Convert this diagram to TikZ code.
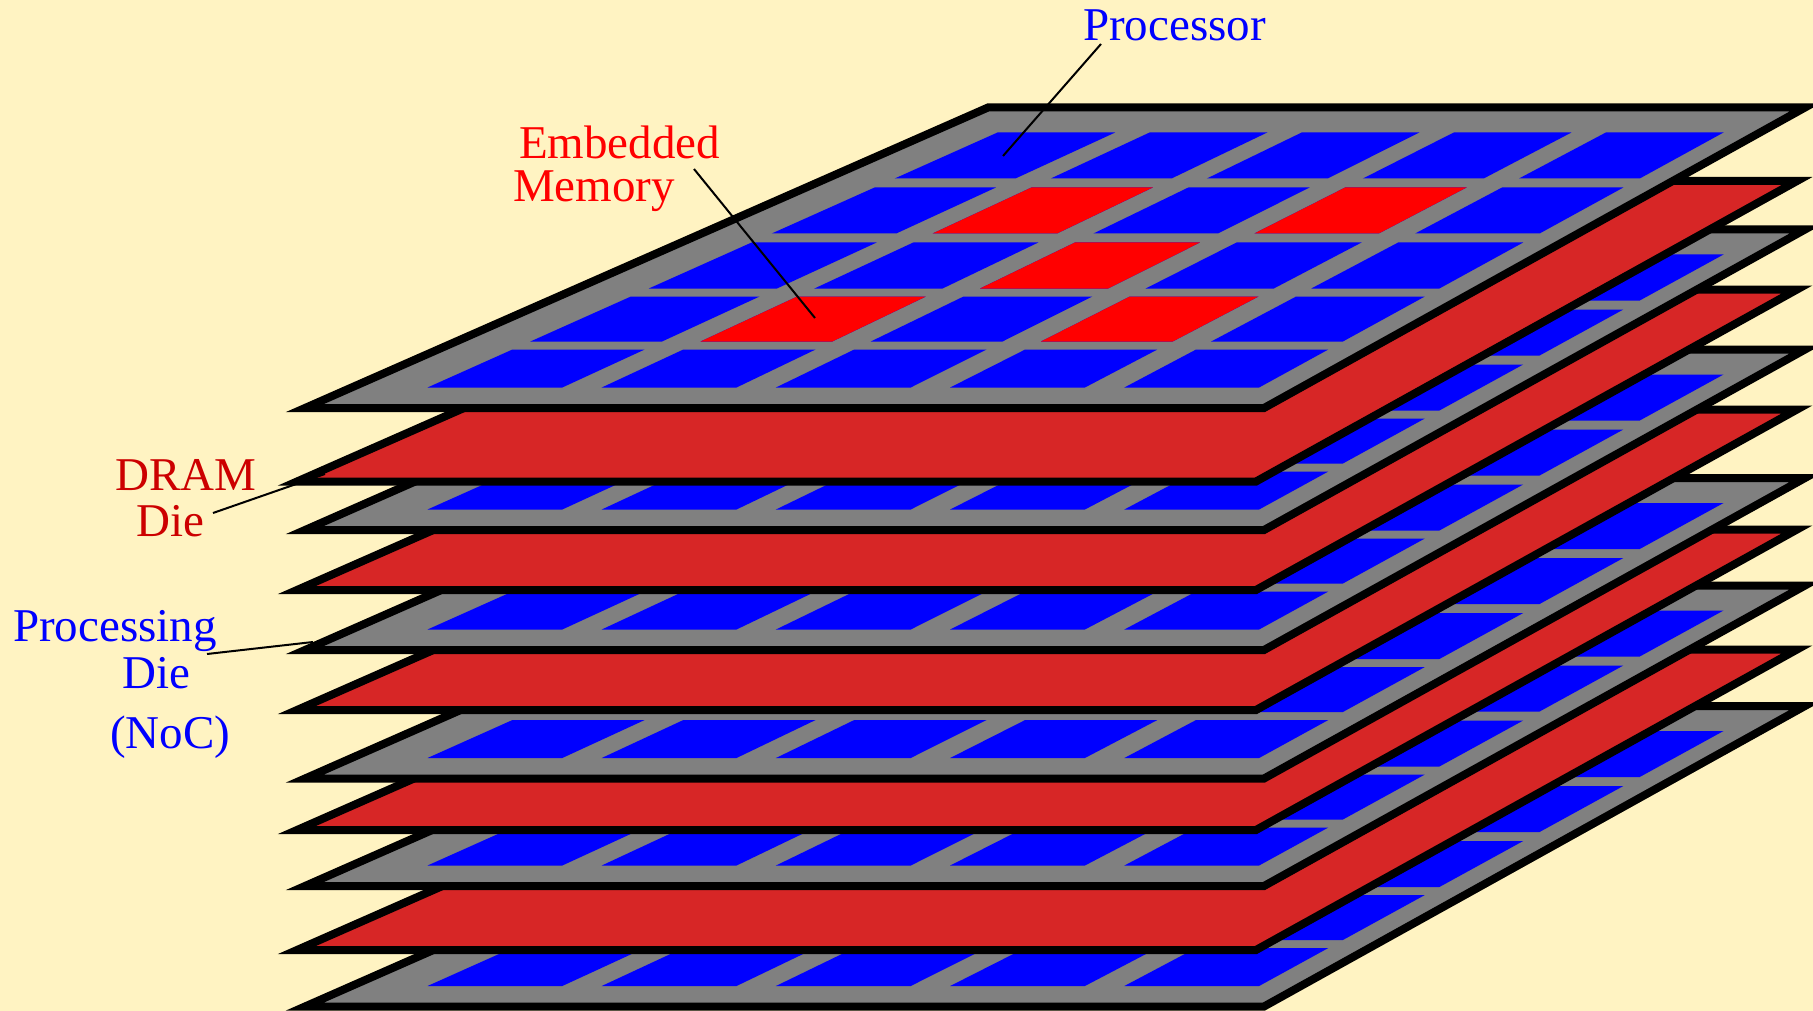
\documentclass[tikz,border=0pt]{standalone}
\usepackage{fontspec}
\setmainfont{Liberation Serif}
\usepackage{tikz}
\usetikzlibrary{calc}

\definecolor{bgcream}{RGB}{255,243,194}
\definecolor{diegray}{RGB}{128,128,128}
\definecolor{dramred}{RGB}{215,38,38}
\definecolor{cellblue}{RGB}{0,0,255}
\definecolor{memred}{RGB}{255,0,0}
\definecolor{dramtext}{RGB}{204,0,0}

\tikzset{
  declare function={xat(\p,\q)=988-2.2729*\q+\p*(817+0.4726*\q);},
  die/.style={draw=black, line width=8pt},
  procdie/.style={die, fill=diegray},
  dramdie/.style={die, fill=dramred},
  bluecell/.style={fill=cellblue},
  memcell/.style={fill=memred},
  lbl/.style={font=\fontsize{47}{47}\selectfont, anchor=base west, inner sep=0pt},
  leader/.style={draw=black, line width=2pt}
}

% one cell of a die: top y, row, column, style
\newcommand{\diecell}[4]{%
  \pgfmathsetmacro\va{{25,80,135,189,242}[#2-1]}
  \pgfmathsetmacro\vb{{71,126,181,234,280}[#2-1]}
  \pgfmathsetmacro\ua{0.08+0.1835*(#3-1)}
  \pgfmathsetmacro\ub{\ua+0.142}
  \fill[#4] ({xat(\ua,\va)},#1+\va) -- ({xat(\ub,\va)},#1+\va)
    -- ({xat(\ub,\vb)},#1+\vb) -- ({xat(\ua,\vb)},#1+\vb) -- cycle;
}
% processing die with a 5x5 grid of processors
\newcommand{\procdie}[1]{%
  \path[procdie] (988,#1) -- (1805,#1) -- (1264,#1+300.5) -- (305,#1+300.5) -- cycle;
  \foreach \r in {1,...,5}
    \foreach \c in {1,...,5}
      {\diecell{#1}{\r}{\c}{bluecell}}
}
% DRAM die
\newcommand{\dramdie}[1]{%
  \path[dramdie] (980,#1) -- (1797,#1) -- (1256,#1+300.5) -- (297,#1+300.5) -- cycle;
}

\begin{document}
\begin{tikzpicture}[x=1pt, y=-1pt]
  \useasboundingbox (0,0) rectangle (1813,1011);
  \fill[bgcream] (0,0) rectangle (1813,1011);

  % the stack, bottom die first
  \foreach \p/\d in {706/649.5, 585.5/529.5, 478/409.5, 349.5/289.5, 229.5/181}
    {\procdie{\p} \dramdie{\d}}
  \procdie{107.5}
  % embedded memory on the top die
  \foreach \r/\c in {2/2, 2/4, 3/3, 4/2, 4/4}
    {\diecell{107.5}{\r}{\c}{memcell}}

  % labels
  \node[lbl, text=cellblue] (processor) at (1083,41) {Processor};
  \node[lbl, text=memred] (embedded) at (519,159) {Embedded};
  \node[lbl, text=memred] (memory) at (513,202) {Memory};
  \node[lbl, text=dramtext] (dram) at (115,490) {DRAM};
  \node[lbl, text=dramtext] (dram-die) at (136,536) {Die};
  \node[lbl, text=cellblue] (processing) at (13,641.7) {Processing};
  \node[lbl, text=cellblue] (proc-die) at (122,688.3) {Die};
  \node[lbl, text=cellblue] (noc) at (110,748) {(NoC)};

  % leader lines
  \coordinate (processor-from) at (1101,44);
  \coordinate (processor-to) at (1003,156);
  \coordinate (memory-from) at (694,169);
  \coordinate (memory-to) at (815,318);
  \coordinate (dram-from) at (213,513);
  \coordinate (dram-to) at (325,474);
  \coordinate (processing-from) at (207,654);
  \coordinate (processing-to) at (313,642);
  \draw[leader] (processor-from) -- (processor-to);
  \draw[leader] (memory-from) -- (memory-to);
  \draw[leader] (dram-from) -- (dram-to);
  \draw[leader] (processing-from) -- (processing-to);
\end{tikzpicture}
\end{document}
